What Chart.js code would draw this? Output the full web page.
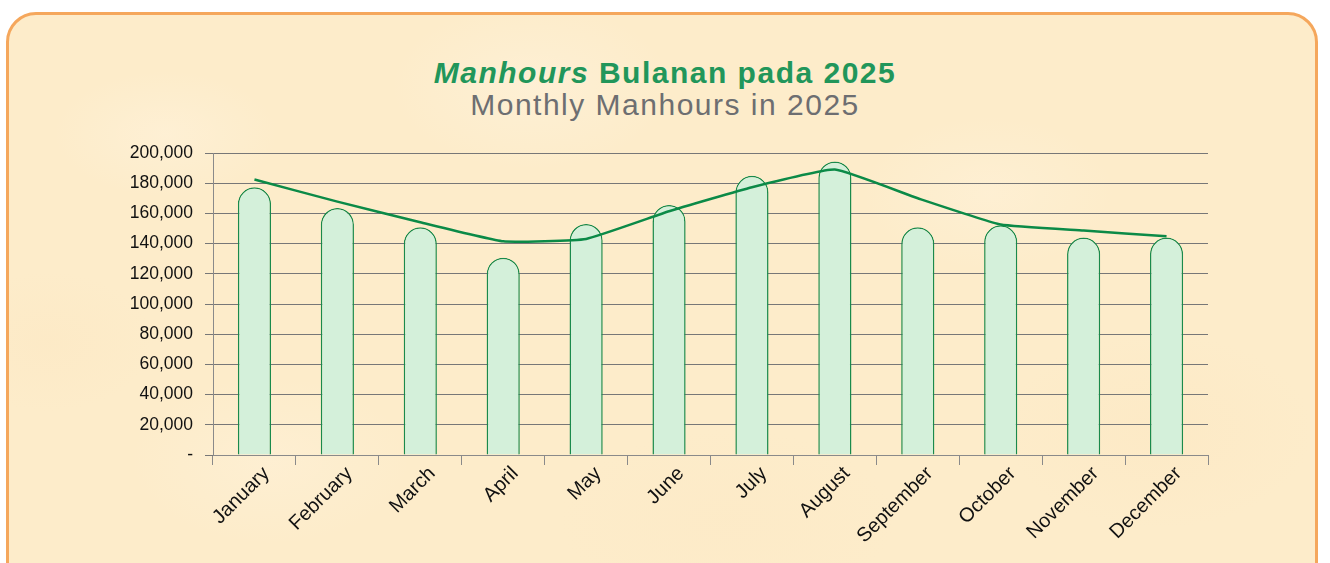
<!DOCTYPE html>
<html>
<head>
<meta charset="utf-8">
<script src="https://cdn.jsdelivr.net/npm/chart.js@4.4.1/dist/chart.umd.min.js"></script>
<style>
  html, body { margin: 0; padding: 0; background: #ffffff; }
  body { width: 1330px; height: 563px; position: relative; overflow: hidden; font-family: "Liberation Sans", Arial, Helvetica, sans-serif; }
  #panel {
    position: absolute; left: 6px; top: 12px; width: 1312px; height: 600px;
    border: 3px solid #f5a75c; border-radius: 30px;
    background-color: #fdecca;
    background-image:
      radial-gradient(ellipse 160px 90px at 12% 20%, rgba(255,244,224,0.45), rgba(255,244,224,0) 70%),
      radial-gradient(ellipse 200px 120px at 40% 12%, rgba(255,245,228,0.4), rgba(255,245,228,0) 70%),
      radial-gradient(ellipse 180px 110px at 75% 30%, rgba(255,244,224,0.4), rgba(255,244,224,0) 70%),
      radial-gradient(ellipse 220px 140px at 88% 70%, rgba(252,229,190,0.35), rgba(252,229,190,0) 70%),
      radial-gradient(ellipse 200px 120px at 20% 75%, rgba(255,243,222,0.4), rgba(255,243,222,0) 70%),
      radial-gradient(ellipse 240px 130px at 55% 85%, rgba(252,231,194,0.3), rgba(252,231,194,0) 70%),
      radial-gradient(ellipse 150px 100px at 3% 55%, rgba(252,230,192,0.35), rgba(252,230,192,0) 70%);
    box-sizing: border-box;
  }
  .title { position: absolute; left: 0; width: 1330px; text-align: center; white-space: nowrap; }
  #t1 { top: 58px; font-size: 30px; line-height: 30px; font-weight: bold; color: #21965a; letter-spacing: 1.5px; }
  #t1 i { font-style: italic; }
  #t2 { top: 90px; font-size: 30px; line-height: 30px; color: #6d6e71; letter-spacing: 1.5px; }
  #c { position: absolute; left: 0; top: 0; }
</style>
</head>
<body>
<div id="panel"></div>
<div class="title" id="t1"><i>Manhours</i> Bulanan pada 2025</div>
<div class="title" id="t2">Monthly Manhours in 2025</div>
<canvas id="c" width="1330" height="563"></canvas>
<script>
const months = ["January","February","March","April","May","June","July","August","September","October","November","December"];
const barValues = [177300, 163600, 150800, 130700, 153000, 165600, 184900, 194400, 150800, 152100, 144000, 144000];
const lineValues = [182400, 167800, 154100, 141500, 143100, 161400, 177300, 189000, 170000, 152600, 148600, 144800];
const yTickMin = 0;
const yTickMax = 200000;
const yTickStep = 20000;

const FONT = "'Liberation Sans', Arial, Helvetica, sans-serif";

new Chart(document.getElementById('c'), {
  type: 'bar',
  data: {
    labels: months,
    datasets: [
      {
        type: 'line',
        data: lineValues,
        borderColor: '#0b8a47',
        borderWidth: 2.5,
        pointRadius: 0,
        tension: 0.12,
        fill: false,
        order: 0
      },
      {
        type: 'bar',
        data: barValues,
        backgroundColor: '#d4f0da',
        borderColor: '#1a8a4c',
        borderWidth: 1.5,
        borderSkipped: 'bottom',
        borderRadius: { topLeft: 20, topRight: 20, bottomLeft: 0, bottomRight: 0 },
        barPercentage: 0.4,
        categoryPercentage: 1.0,
        order: 1
      }
    ]
  },
  options: {
    responsive: false,
    animation: false,
    devicePixelRatio: 1,
    layout: { padding: { top: 153, right: 122, left: 0, bottom: 0 } },
    plugins: { legend: { display: false }, tooltip: { enabled: false }, title: { display: false } },
    scales: {
      x: {
        offset: true,
        afterFit: s => { s.height = 108; },
        grid: { display: true, drawOnChartArea: false, drawTicks: true, tickLength: 10, color: '#8a8a8a', offset: true },
        border: { display: true, color: '#8a8a8a', width: 1 },
        ticks: { minRotation: 45, maxRotation: 45, autoSkip: false, padding: -3, labelOffset: 12, color: '#111', font: { family: FONT, size: 20 } }
      },
      y: {
        min: yTickMin,
        max: yTickMax,
        afterFit: s => { s.width = 213; },
        grid: { color: '#777', lineWidth: 1, drawTicks: true, tickLength: 8 },
        border: { display: true, color: '#8a8a8a', width: 1 },
        ticks: {
          stepSize: yTickStep,
          padding: 12,
          color: '#111',
          font: { family: FONT, size: 17.5 },
          callback: v => v === 0 ? '-' : v.toLocaleString('en-US')
        }
      }
    }
  }
});
</script>
</body>
</html>
